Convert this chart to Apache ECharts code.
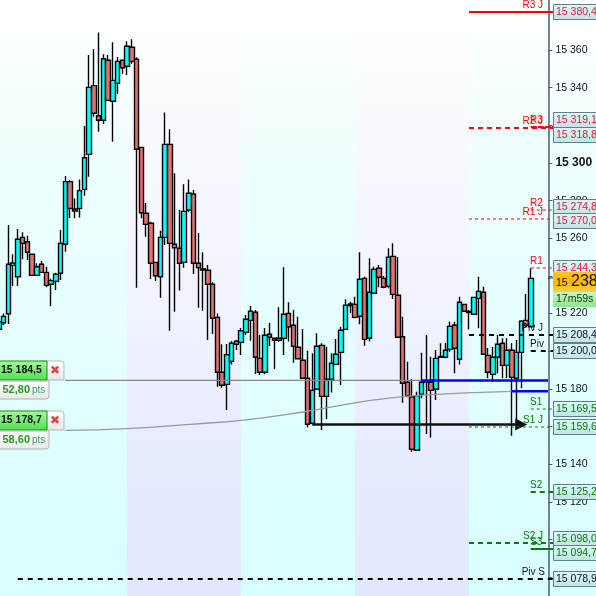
<!DOCTYPE html>
<html><head><meta charset="utf-8">
<style>html,body{margin:0;padding:0;background:#fff;overflow:hidden}#c{width:596px;height:596px}</style>
<script src="https://cdn.jsdelivr.net/npm/echarts@6/dist/echarts.min.js"></script>
</head><body><div id="c"></div>
<script>
const opens=[15211.6,15215.1,15219.9,15245.6,15239.6,15260.5,15258.2,15251.5,15240.3,15246.2,
15241.9,15235.6,15237.1,15241.4,15256.8,15290.1,15275.6,15275.9,15286.0,15304.6,
15341.1,15325.1,15322.7,15354.6,15332.8,15342.3,15354.6,15351.4,15361.5,15355.1,
15308.3,15273.3,15268.0,15247.2,15239.6,15260.5,15309.9,15256.8,15254.7,15247.2,
15275.0,15283.5,15246.7,15243.7,15243.0,15235.6,15218.0,15188.8,15182.4,15194.6,
15203.7,15204.7,15210.0,15216.4,15220.7,15196.2,15188.8,15209.0,15206.9,15205.8,
15206.9,15220.1,15213.8,15202.1,15195.2,15185.6,15161.7,15179.8,15203.1,15176.0,
15185.1,15193.0,15199.4,15211.6,15225.1,15224.9,15218.6,15238.7,15206.9,15230.8,
15244.1,15238.7,15234.5,15250.4,15229.7,15207.7,15183.5,15175.8,15147.4,15177.1,
15184.2,15183.5,15179.8,15197.2,15196.8,15201.0,15213.8,15195.7,15224.9,15221.1,
15219.6,15228.1,15231.3,15197.8,15187.7,15196.8,15204.2,15192.5,15200.5,15185.6,
15199.4,15216.4,15213.0];
const closes=[15215.7,15218.5,15246.2,15246.9,15259.5,15257.3,15252.6,15240.3,15244.9,15241.9,
15235.0,15237.5,15240.9,15257.3,15290.1,15275.9,15274.5,15285.3,15302.8,15340.2,
15326.4,15322.7,15355.4,15333.3,15343.9,15354.0,15350.6,15362.0,15354.0,15307.3,
15273.6,15267.4,15246.7,15240.1,15260.5,15309.9,15257.3,15255.0,15246.7,15274.3,
15283.9,15246.7,15244.4,15243.1,15235.6,15217.5,15188.8,15181.9,15198.1,15204.2,
15205.3,15210.9,15217.0,15221.2,15196.8,15188.8,15208.5,15207.4,15205.8,15206.9,
15219.6,15213.0,15202.6,15196.0,15185.6,15161.2,15179.2,15202.6,15176.0,15185.1,
15193.6,15198.4,15211.1,15224.4,15224.3,15218.0,15238.2,15206.3,15231.3,15243.5,
15239.3,15234.0,15249.9,15230.2,15207.4,15183.0,15176.2,15147.9,15176.4,15183.5,
15183.6,15179.2,15196.2,15196.7,15200.5,15213.2,15201.6,15226.0,15221.2,15220.6,
15228.6,15231.8,15198.4,15188.8,15196.8,15203.7,15192.5,15200.5,15186.1,15199.4,
15215.9,15213.8,15238.7];
const lows=[15210.2,15213.9,15214.5,15234.6,15234.6,15248.8,15248.5,15240.3,15240.3,15241.9,
15234.0,15224.0,15232.5,15237.8,15252.9,15270.8,15270.6,15271.1,15282.6,15292.7,
15324.6,15316.6,15320.7,15333.3,15311.3,15336.7,15347.4,15346.8,15352.8,15233.7,
15270.6,15260.8,15238.4,15237.3,15228.4,15256.4,15210.9,15221.0,15232.2,15244.4,
15274.0,15241.0,15223.1,15221.5,15206.0,15209.1,15181.1,15180.6,15168.8,15193.0,
15200.6,15198.0,15208.6,15205.6,15187.9,15187.4,15187.8,15202.8,15190.6,15204.9,
15198.0,15205.1,15193.9,15195.7,15185.6,15159.4,15161.2,15179.4,15158.1,15164.0,
15178.0,15193.0,15182.1,15211.6,15220.3,15217.5,15214.3,15202.9,15205.1,15230.8,
15234.0,15233.4,15233.4,15227.7,15207.4,15172.6,15175.5,15146.6,15147.4,15175.0,
15156.0,15154.1,15174.1,15196.4,15196.2,15199.7,15188.3,15193.0,15221.2,15211.6,
15219.6,15212.2,15198.4,15185.6,15183.8,15188.3,15185.6,15185.6,15155.1,15159.0,
15180.3,15213.0,15213.0];
const highs=[15216.6,15220.1,15267.1,15251.5,15264.9,15263.2,15261.4,15251.5,15246.7,15247.9,
15244.9,15238.5,15241.7,15264.4,15293.1,15290.8,15281.2,15291.3,15319.7,15357.4,
15360.4,15369.4,15357.8,15357.4,15364.1,15356.3,15354.6,15364.7,15365.7,15356.2,
15308.3,15278.7,15268.8,15247.2,15264.0,15326.9,15317.9,15294.5,15275.0,15288.7,
15291.3,15285.7,15262.8,15252.6,15245.8,15236.6,15220.1,15203.7,15203.8,15205.4,
15206.0,15212.3,15219.2,15224.0,15221.9,15208.6,15212.3,15215.0,15206.9,15223.3,
15244.6,15226.0,15221.9,15218.3,15211.8,15200.3,15198.9,15209.5,15204.2,15202.4,
15198.9,15206.5,15213.0,15227.6,15226.3,15229.0,15252.6,15239.6,15249.4,15244.9,
15245.8,15240.0,15254.7,15257.3,15249.9,15218.3,15194.4,15185.1,15178.5,15199.2,
15208.6,15197.1,15200.6,15204.2,15204.4,15215.7,15215.7,15229.0,15224.9,15221.9,
15229.0,15239.6,15234.3,15201.7,15202.2,15208.6,15206.9,15206.9,15204.4,15206.0,
15216.6,15230.4,15244.1];
const axisTicks=[15060,15400,20];
const levelNames=['R3 J','R3','R2 J','R2','R1 J','R1','Piv J','Piv','S1','S1 J','S2','S2 J','S3','Piv S'];
const levelValues=[15380.4,15319.1,15318.8,15274.8,15270.0,15244.3,15208.4,15200.0,15169.5,15159.6,15125.2,15098.0,15094.7,15078.9];
const levelTexts=['15 380,4','15 319,1','15 318,8','15 274,8','15 270,0','15 244,3','15 208,4','15 200,0','15 169,5','15 159,6','15 125,2','15 098,0','15 094,7','15 078,9'];
const levelStartBars=[99,112,99,112,99,112,99,112,112,99,112,99,112,4];
const orderPrices=['15 184,5','15 178,7'];
const orderPoints=['52,80','58,60'];
const orderValues=[15184.5,15157.9];
const movingBars=[14,27,41,52,64,79,89,108];
const movingValues=[15157.9,15158.9,15161.3,15163.5,15167.7,15174.1,15176.7,15178.7];
const flatValues=[15184.5,15184.5,15178.7];
const flatStarts=[14,89,108];
const flatEnds=[89,null,null];
const arrowBars=[66,110];
const arrowValue=15161.0;
const countdownText='17m59s';
const lavenderBands=[[27,51],[75,99]];

const categories=Array.from({length:116},(_,i)=>'b'+i);
const candleData=opens.map((o,i)=>[o,closes[i],lows[i],highs[i]]);
const colorOf=n=>/^R/.test(n)?'#ff0000':/^S/.test(n)?'#008000':'#000000';
const lineStyles={'R3 J':[2,null],'R3':[2,[6,1]],'R2 J':[2,[5,4]],'R2':[1,[3,3]],'R1 J':[1,[3,3]],'R1':[1,[3,3]],
 'Piv J':[2,[5,5]],'Piv':[2,[5,5]],'S1':[1,[3,3]],'S1 J':[1,[3,3]],'S2':[2,[5,4]],'S2 J':[2,[5,4]],'S3':[2,null],'Piv S':[2,[5,5]]};
const boxShift={'R3':-7,'R2 J':7,'R2':-3,'R1 J':2,'S2 J':-4,'S3':4};
const lg=(stops)=>({type:'linear',x:0,y:0,x2:0,y2:1,colorStops:stops.map(s=>({offset:s[0],color:s[1]}))});
const fontA='"Liberation Sans",Arial,sans-serif';
const RIGHT=548;

function txt(x,y,text,fill,font,align){return {type:'text',silent:true,style:{x,y,text,fill,font,align:align||'left',verticalAlign:'middle'}};}

const chart=echarts.init(document.getElementById('c'),null,{renderer:'canvas'});
chart.setOption({
 animation:false,
 backgroundColor:lg([[0,'#ffffff'],[0.33,'#edffff'],[0.7,'#e0ffff'],[1,'#d8ffff']]),
 grid:{left:-3.625,top:-25.2,width:551,height:639.9,containLabel:false,outerBoundsMode:'none'},
 xAxis:{type:'category',data:categories,boundaryGap:true,show:false},
 yAxis:{type:'value',position:'right',min:axisTicks[0],max:axisTicks[1],interval:axisTicks[2],offset:1,scale:true,
  splitLine:{show:false},
  axisLine:{show:true,onZero:false,lineStyle:{color:'#74858f',width:2}},
  axisTick:{show:true,length:4,lineStyle:{color:'#556',width:1}},
  axisLabel:{margin:7,color:'#101020',fontFamily:fontA,fontSize:10.5,
   formatter:v=>{const s=String(v),t=s.slice(0,2)+' '+s.slice(2);return v===15300?'{b|'+t+'}':t;},
   rich:{b:{fontWeight:'bold',fontSize:12,color:'#101020',fontFamily:fontA}}}},
 series:[
  {type:'custom',name:'bands',z:1,silent:true,data:lavenderBands.map(b=>[b[0],b[1]]),encode:{x:[0,1]},
   renderItem(p,api){const a=api.coord([api.value(0),15400]),b=api.coord([api.value(1),15060]);
    return {type:'rect',shape:{x:a[0],y:0,width:b[0]-a[0],height:596},
     style:{fill:lg([[0,'#ffffff'],[0.33,'#f6f8ff'],[0.75,'#e8ecff'],[1,'#e2e8ff']])}};}},
  {type:'candlestick',name:'price',z:3,silent:true,barWidth:5,data:candleData,
   itemStyle:{color:'#00ffff',color0:'#e57070',borderColor:'#000000',borderColor0:'#000000',borderWidth:1.4}},
  {type:'line',name:'moving',z:4,silent:true,smooth:true,showSymbol:false,data:movingBars.map((b,i)=>[b,movingValues[i]]),
   lineStyle:{color:'#9a9a9a',width:1.3}},
  {type:'custom',name:'flat',z:5,silent:true,clip:false,data:flatValues.map((v,i)=>[flatStarts[i],v]),
   renderItem(p,api){const i=p.dataIndex,a=api.coord([api.value(0),api.value(1)]);
    const end=flatEnds[i]==null?RIGHT:api.coord([flatEnds[i],api.value(1)])[0];
    const gray=flatEnds[i]!=null;
    return {type:'line',shape:{x1:a[0],y1:a[1],x2:end,y2:a[1]},style:{stroke:gray?'#858585':'#0000ff',lineWidth:gray?1.2:2.5}};}},
  {type:'line',name:'arrow',z:6,silent:true,data:[],
   markLine:{silent:true,animation:false,symbol:['none','triangle'],symbolSize:[12,12],label:{show:false},
    lineStyle:{color:'#111111',width:2.5,type:'solid'},
    data:[[{xAxis:arrowBars[0],yAxis:arrowValue},{xAxis:arrowBars[1],yAxis:arrowValue}]]}},
  {type:'custom',name:'levels',z:7,silent:true,clip:false,data:levelValues.map((v,i)=>[levelStartBars[i],v]),
   renderItem(p,api){const i=p.dataIndex,n=levelNames[i],c=colorOf(n),a=api.coord([api.value(0),api.value(1)]);
    const st=lineStyles[n],y=Math.round(a[1]),cy=y+(boxShift[n]||0);
    const longOne=/J$|Piv S/.test(n);
    const boxText=c==='#ff0000'?'#ee1133':c==='#008000'?'#008000':'#101030';
    const ch=[
     {type:'line',shape:{x1:a[0],y1:y,x2:553,y2:y},style:{stroke:c,lineWidth:st[0],lineDash:st[1]}},
     longOne?txt(n==='Piv S'?545:543,y-7,n,n==='Piv S'||n==='Piv J'?'#101030':c,'10px '+fontA,'right')
            :txt(530,y-6.5,n,n==='Piv'?'#101030':c,'10px '+fontA,'left'),
     {type:'rect',shape:{x:553.5,y:cy-7.5,width:60,height:15},style:{fill:lg([[0,'#e0fafa'],[1,'#bfe3e3']]),stroke:'#5f7f8c',lineWidth:1}},
     txt(556,cy,levelTexts[i],boxText,'10.5px '+fontA,'left')];
    return {type:'group',children:ch};}},
  {type:'custom',name:'current',z:8,silent:true,clip:false,data:[[112,closes[closes.length-1]]],
   renderItem(p,api){const a=api.coord([api.value(0),api.value(1)]),y=Math.round(a[1]);
    const s=String(Math.floor(api.value(1)));
    return {type:'group',children:[
     {type:'line',shape:{x1:548,y1:y,x2:553,y2:y},style:{stroke:'#222',lineWidth:1}},
     {type:'rect',shape:{x:553,y:y-6,width:60,height:20},style:{fill:lg([[0,'#ffc81e'],[0.5,'#ffb400'],[1,'#ffd04a']])}},
     txt(556,y+5,s.slice(0,2),'#111','10.5px '+fontA),
     txt(571,y+4,s.slice(2),'#111','16px '+fontA),
     {type:'rect',shape:{x:553,y:y+14,width:60,height:15},style:{fill:lg([[0,'#c6f7c0'],[1,'#8fe58a']])}},
     txt(556,y+21.5,countdownText,'#103010','10.5px '+fontA)]};}},
  {type:'custom',name:'orders',z:9,silent:true,clip:false,data:orderValues.map(v=>[0,v]),
   renderItem(p,api){const i=p.dataIndex,y=Math.round(api.coord([0,api.value(1)])[1]);
    return {type:'group',children:[
     {type:'rect',shape:{x:40,y:y-19,width:24,height:19,r:[0,3,0,0]},style:{fill:lg([[0,'#ffffff'],[1,'#e6e6e6']]),stroke:'#b8b8b8',lineWidth:1}},
     txt(50,y-9.5,'✖','#dd4444','bold 12px "DejaVu Sans"','left'),
     {type:'rect',shape:{x:-3,y:y-19,width:50,height:19},style:{fill:lg([[0,'#a8f8a0'],[1,'#50e050']]),stroke:'#169016',lineWidth:1}},
     txt(1,y-9.5,orderPrices[i],'#111','bold 10.5px '+fontA),
     {type:'rect',shape:{x:-3,y:y+1,width:52,height:18,r:[0,0,3,0]},style:{fill:lg([[0,'#ffffff'],[1,'#e8e8e8']]),stroke:'#b0b0b0',lineWidth:1}},
     txt(2.5,y+10,orderPoints[i],'#2a9a20','bold 11px '+fontA),
     txt(32,y+10.5,'pts','#3a9a80','10px '+fontA)]};}}
 ]});
</script></body></html>
